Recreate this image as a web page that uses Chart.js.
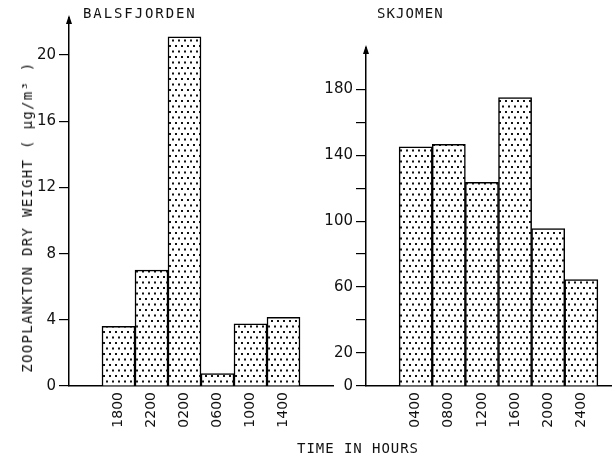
<!DOCTYPE html>
<html>
<head>
<meta charset="utf-8">
<script src="https://cdn.jsdelivr.net/npm/chart.js@4/dist/chart.umd.min.js"></script>
<style>
  html, body { margin: 0; padding: 0; background: #fff; }
  #palco { position: relative; width: 612px; height: 464px; overflow: hidden; background: #fff; }
  canvas { position: absolute; top: 0; }
  .rotulo { position: absolute; font-family: "DejaVu Sans Mono", monospace; font-size: 14px; line-height: 14px; color: #111; white-space: nowrap; }
</style>
</head>
<body>
<div id="palco">
  <canvas id="graficoBals" width="340" height="464" style="left:0"></canvas>
  <canvas id="graficoSkj" width="340" height="464" style="left:300px"></canvas>
  <div class="rotulo" style="left:83px; top:6px; letter-spacing:1.9px">BALSFJORDEN</div>
  <div class="rotulo" style="left:377px; top:6px; letter-spacing:1.1px">SKJOMEN</div>
  <div class="rotulo" style="left:297px; top:441px; letter-spacing:0.95px">TIME IN HOURS</div>
  <div class="rotulo" style="left:27px; top:217px; letter-spacing:1.3px; transform:translate(-50%,-50%) rotate(-90deg)">ZOOPLANKTON DRY WEIGHT ( μg/m³ )</div>
</div>
<script>
// Dados (primeira e última categoria vazias)
const horasBals = ['', '1800', '2200', '0200', '0600', '1000', '1400', ''];
const pesoBals = [null, 3.6, 7.0, 21.1, 0.75, 3.75, 4.15, null];
const ticksBals = [0, 4, 8, 12, 16, 20];

const horasSkj = ['', '0400', '0800', '1200', '1600', '2000', '2400', ''];
const pesoSkj = [null, 145, 146.5, 123.5, 175, 95.5, 64.5, null];
const ticksSkj = [0, 20, 40, 60, 80, 100, 120, 140, 160, 180];
const rotulosSkj = [0, 20, 60, 100, 140, 180];

// Textura pontilhada das barras
function criarPontilhado() {
    const c = document.createElement('canvas');
    c.width = 6; c.height = 11;
    const g = c.getContext('2d');
    g.fillStyle = '#fff';
    g.fillRect(0, 0, 6, 11);
    g.fillStyle = '#111';
    g.fillRect(1, 1, 2, 2);
    g.fillRect(4, 6.5, 2, 2);
    return document.getElementById('graficoBals').getContext('2d').createPattern(c, 'repeat');
}
const pontilhado = criarPontilhado();

// Seta no topo do eixo Y
const setaEixo = {
    id: 'setaEixo',
    afterDraw(chart) {
        const ctx = chart.ctx;
        const x = chart.scales.y.right;
        const topo = chart.chartArea.top;
        ctx.save();
        ctx.fillStyle = '#000';
        ctx.beginPath();
        ctx.moveTo(x, topo - 3);
        ctx.lineTo(x - 3, topo + 6);
        ctx.lineTo(x + 3, topo + 6);
        ctx.closePath();
        ctx.fill();
        ctx.restore();
    }
};

const fonteX = { family: 'DejaVu Sans', size: 14 };
const fonteY = { family: 'DejaVu Sans', size: 15 };

function montarGrafico(idCanvas, horas, valores, yMax, listaTicks, larguraY, padTopo, padDireita, filtroRotulo) {
    const ctx = document.getElementById(idCanvas).getContext('2d');
    return new Chart(ctx, {
        type: 'bar',
        plugins: [setaEixo],
        data: {
            labels: horas,
            datasets: [{
                data: valores,
                backgroundColor: pontilhado,
                borderColor: '#000',
                borderWidth: 1.5,
                barPercentage: 1,
                categoryPercentage: 1
            }]
        },
        options: {
            responsive: false,
            animation: false,
            devicePixelRatio: 1,
            layout: { padding: { top: padTopo, right: padDireita, bottom: 0, left: 0 } },
            plugins: { legend: { display: false }, tooltip: { enabled: false } },
            scales: {
                x: {
                    grid: { display: false, drawTicks: false },
                    border: { display: true, color: '#000', width: 1.5 },
                    ticks: { color: '#111', font: fonteX, minRotation: 90, maxRotation: 90, autoSkip: false, padding: 6 },
                    afterFit: s => { s.height = 78; }
                },
                y: {
                    min: 0,
                    max: yMax,
                    grid: { drawOnChartArea: false, drawTicks: true, tickLength: 10, color: '#000', lineWidth: 1.2 },
                    border: { display: true, color: '#000', width: 1.5 },
                    ticks: {
                        color: '#111', font: fonteY, padding: 3,
                        callback: v => filtroRotulo(v) ? String(v) : ''
                    },
                    afterBuildTicks: s => { s.ticks = listaTicks.map(v => ({ value: v })); },
                    afterFit: s => { s.width = larguraY; }
                }
            }
        }
    });
}

// área do gráfico esquerdo: x 69..333, y 18..386
montarGrafico('graficoBals', horasBals, pesoBals, 22.24, ticksBals, 69, 18, 7, () => true);
// área do gráfico direito: x 366..631 (cortado no fim da página), y 48..386
montarGrafico('graficoSkj', horasSkj, pesoSkj, 205, ticksSkj, 66, 48, 9, v => rotulosSkj.includes(v));
</script>
</body>
</html>
